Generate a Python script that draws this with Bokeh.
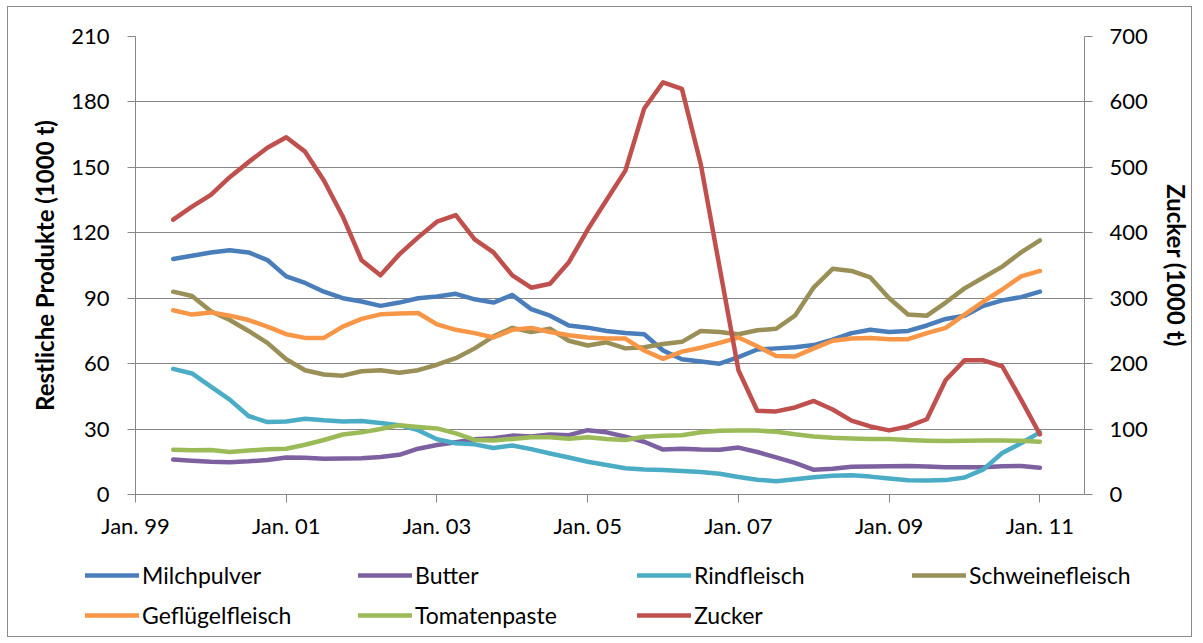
from bokeh.plotting import figure
from bokeh.models import (Range1d, LinearAxis, FixedTicker, Legend, LegendItem)
from bokeh.embed import file_html
from bokeh.resources import INLINE

# months since Jan. 1999 (quarterly samples, Jul. 1999 .. Jan. 2011)
months = [6, 9, 12, 15, 18, 21, 24, 27, 30, 33, 36, 39, 42, 45, 48, 51, 54, 57, 60,
          63, 66, 69, 72, 75, 78, 81, 84, 87, 90, 93, 96, 99, 102, 105, 108, 111,
          114, 117, 120, 123, 126, 129, 132, 135, 138, 141, 144]

milchpulver = [108, 109.5, 111, 112, 111, 107.5, 100, 97, 93, 90, 88.5, 86.5, 88, 90,
               90.8, 92, 89.5, 88, 91.5, 85, 82, 77.5, 76.5, 75, 74, 73.5, 66, 62, 61,
               60, 63, 66.5, 67, 67.5, 68.5, 71, 74, 75.5, 74.5, 75, 77.5, 80.5, 82,
               86.5, 89, 90.5, 93]
butter = [16, 15.5, 15, 14.8, 15.2, 15.8, 17, 16.8, 16.4, 16.5, 16.6, 17.2, 18.2, 21,
          22.7, 24, 25.3, 25.8, 27, 26.6, 27.5, 27.2, 29.5, 28.5, 26.5, 24.2, 20.6, 21,
          20.6, 20.5, 21.5, 19.5, 17, 14.5, 11.3, 11.8, 12.7, 12.8, 12.9, 13.1, 12.8,
          12.5, 12.5, 12.5, 12.9, 13.1, 12.3]
rindfleisch = [57.6, 55.5, 49.5, 43.5, 36, 33.2, 33.5, 34.7, 34, 33.5, 33.7, 32.8, 31.8,
               29.5, 25.3, 23.5, 23, 21.3, 22.5, 20.8, 18.8, 17, 15, 13.5, 12, 11.5,
               11.2, 10.8, 10.3, 9.5, 8, 6.8, 6.1, 7, 7.9, 8.6, 8.8, 8.2, 7.3, 6.5, 6.4,
               6.6, 7.8, 11.5, 19, 23.5, 28.5]
schweinefleisch = [93, 91, 84, 80, 75, 69.5, 62, 57, 55, 54.5, 56.5, 57, 55.8, 57, 59.5,
                   62.5, 67, 72.5, 76.4, 74.5, 76, 70.5, 68.3, 69.8, 67, 67.5, 69, 70,
                   75, 74.5, 73.5, 75.3, 76, 82, 95, 103.5, 102.5, 99.5, 90, 82.5, 82,
                   88, 94.5, 99.5, 104.5, 111, 116.5]
gefluegelfleisch = [84.5, 82.5, 83.5, 82, 80, 77, 73.5, 71.8, 71.8, 77, 80.5, 82.6, 83,
                    83.2, 78, 75.5, 74, 72, 75.5, 76.4, 74.5, 73, 72, 71.5, 71.5, 66,
                    62.2, 65.5, 67.3, 69.5, 72, 68, 63.5, 63.3, 67, 70.5, 71.5, 71.8,
                    71.2, 71.2, 74, 76.4, 82.5, 88.5, 94, 100, 102.5]
tomatenpaste = [20.5, 20.3, 20.4, 19.5, 20.2, 20.7, 21, 22.8, 25, 27.5, 28.5, 30, 31.8,
                31, 30.3, 28, 25, 24.8, 25.5, 26.3, 26.3, 25.6, 26.2, 25.5, 25, 26.5,
                26.9, 27.2, 28.5, 29.2, 29.3, 29.3, 28.8, 27.6, 26.6, 26, 25.7, 25.5,
                25.5, 25, 24.7, 24.5, 24.7, 24.8, 24.8, 24.6, 24.2]
zucker = [420, 440, 458, 485, 508, 530, 546, 524, 480, 425, 358, 335, 367, 393, 417, 427,
          390, 370, 335, 316, 322, 355, 405, 450, 495, 590, 630, 620, 505, 347, 190, 128,
          127, 133, 143, 130, 113, 104, 98, 104, 115, 175, 205, 205, 196, 145, 92]

tick_months = [0, 24, 48, 72, 96, 120, 144]
tick_labels = ["Jan. 99", "Jan. 01", "Jan. 03", "Jan. 05", "Jan. 07", "Jan. 09", "Jan. 11"]
left_ticks = [0, 30, 60, 90, 120, 150, 180, 210]
right_ticks = [0, 100, 200, 300, 400, 500, 600, 700]

FONT = "Lato"
GRID = "#868686"
BORDER = "1px solid #8a8a8a"

p = figure(width=1185, height=545, output_backend="svg", toolbar_location=None,
           x_range=Range1d(0, 151.1), y_range=Range1d(0, 210),
           min_border_left=127, min_border_right=109, min_border_top=29,
           min_border_bottom=58)
p.styles = {"border-left": BORDER, "border-right": BORDER, "border-top": BORDER,
            "margin-left": "7px", "margin-top": "6px"}
p.extra_y_ranges = {"zucker": Range1d(0, 700)}
p.outline_line_color = None
p.background_fill_color = "white"
p.border_fill_color = "white"

# axes
p.xaxis.ticker = FixedTicker(ticks=tick_months)
p.xaxis.major_label_overrides = {m: l for m, l in zip(tick_months, tick_labels)}
p.yaxis.ticker = FixedTicker(ticks=left_ticks)
p.yaxis.axis_label = "Restliche Produkte (1000 t)"

right = LinearAxis(y_range_name="zucker", ticker=FixedTicker(ticks=right_ticks),
                   axis_label="Zucker (1000 t)")
p.add_layout(right, "right")

for ax in [p.xaxis[0], p.yaxis[0], right]:
    ax.axis_line_color = GRID
    ax.axis_line_width = 1
    ax.major_tick_line_color = GRID
    ax.major_tick_in = 0
    ax.major_tick_out = 8
    ax.minor_tick_line_color = None
    ax.major_label_text_font = FONT
    ax.major_label_text_font_size = "22px"
    ax.major_label_text_color = "#000000"
    ax.axis_label_text_font = FONT
    ax.axis_label_text_font_size = "24px"
    ax.axis_label_text_font_style = "bold"
    ax.axis_label_text_color = "#000000"

p.xaxis.major_label_standoff = 9
p.yaxis.major_label_standoff = 18
right.major_label_standoff = 17
p.yaxis.axis_label_standoff = 9
right.axis_label_standoff = 11

p.xgrid.grid_line_color = None
p.ygrid.grid_line_color = GRID
p.ygrid.grid_line_width = 1
p.ygrid.ticker = FixedTicker(ticks=left_ticks)

series = [
    ("Milchpulver", milchpulver, "#4A7EBB", "default"),
    ("Butter", butter, "#7D60A0", "default"),
    ("Rindfleisch", rindfleisch, "#4BACC6", "default"),
    ("Schweinefleisch", schweinefleisch, "#998F57", "default"),
    ("Geflügelfleisch", gefluegelfleisch, "#F79646", "default"),
    ("Tomatenpaste", tomatenpaste, "#9BBB59", "default"),
    ("Zucker", zucker, "#C0504D", "zucker"),
]

for name, vals, col, rng in series:
    p.line(months, vals, line_color=col, line_width=4.5, line_join="round",
           line_cap="round", y_range_name=rng)

# legend strip below the chart (4 columns x 2 rows); its lines lie outside its view
lp = figure(width=1185, height=86, output_backend="svg", toolbar_location=None,
            x_range=Range1d(1000, 1001), y_range=Range1d(0, 1),
            min_border_left=0, min_border_right=0, min_border_top=0,
            min_border_bottom=0)
lp.styles = {"border-left": BORDER, "border-right": BORDER, "border-bottom": BORDER,
             "margin-left": "7px"}
lp.axis.visible = False
lp.grid.visible = False
lp.outline_line_color = None
lp.background_fill_color = "white"
lp.border_fill_color = "white"

col_x = [77, 350, 629, 904]
row_y = [48, 8]
for i, (name, vals, col, rng) in enumerate(series):
    r = lp.line(months, vals, line_color=col, line_width=4.5, line_cap="round")
    lg = Legend(items=[LegendItem(label=name, renderers=[r])],
                location=(col_x[i % 4], row_y[i // 4]),
                orientation="vertical", padding=0, margin=0, spacing=0,
                border_line_color=None, background_fill_alpha=0,
                glyph_width=54, glyph_height=26, label_standoff=3,
                label_text_font=FONT, label_text_font_size="23px",
                label_text_color="#000000", label_height=26)
    lp.add_layout(lg, "center")

open("out.html", "w").write(file_html([p, lp], INLINE))
